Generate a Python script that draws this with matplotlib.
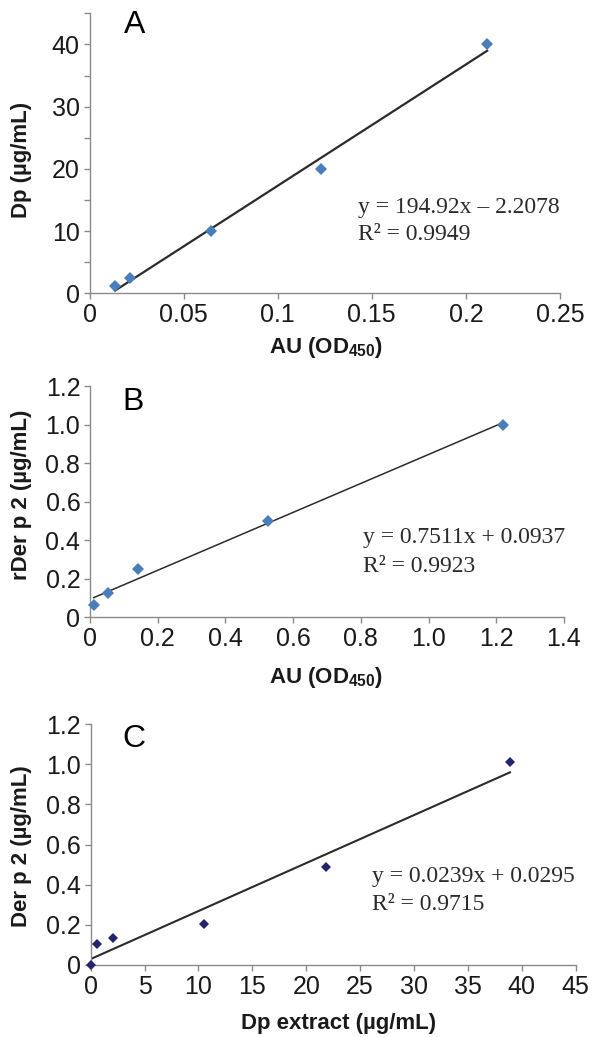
import numpy as np
import matplotlib
matplotlib.use("Agg")
import matplotlib.pyplot as plt
from matplotlib.ticker import FuncFormatter, MultipleLocator

plt.rcParams['font.family'] = ['Liberation Sans', 'DejaVu Sans']
plt.rcParams['mathtext.default'] = 'regular'

# panel A: Dp vs AU
a_x = [0.0136, 0.0215, 0.0648, 0.1232, 0.2113]
a_y = [1.25, 2.5, 10, 20, 40]
a_fit = (194.92, -2.2078)

# panel B: rDer p 2 vs AU
b_x = [0.011, 0.052, 0.142, 0.525, 1.219]
b_y = [0.0625, 0.125, 0.25, 0.5, 1.0]
b_fit = (0.7511, 0.0937)

# panel C: Der p 2 vs Dp extract
c_x = [0.0, 0.56, 2.1, 10.5, 21.8, 38.9]
c_y = [0.0, 0.103, 0.133, 0.203, 0.49, 1.01]
c_fit = (0.0239, 0.0295)

W, H = 592, 1037
fig = plt.figure(figsize=(W / 100, H / 100), dpi=100)


def box(left, right, top, bottom):
    return [left / W, 1 - bottom / H, (right - left) / W, (bottom - top) / H]


def fmt_dec(v, pos):
    return '0' if abs(v) < 1e-9 else '%.1f' % v


def fmt_g(v, pos):
    return '0' if abs(v) < 1e-9 else '%g' % round(v, 4)


def style(ax):
    for s in ['top', 'right']:
        ax.spines[s].set_visible(False)
    for s in ['left', 'bottom']:
        ax.spines[s].set_color('#8a8a8a')
        ax.spines[s].set_linewidth(1.0)
    ax.tick_params(direction='out', length=4, width=1.0, color='#8a8a8a',
                   labelsize=18, labelcolor='#1a1a1a', pad=3)


def panel(ax, x, y, fit, mcolor, ms, lw, letter, lpos, eq, r2, tx, ty1, ty2):
    style(ax)
    ax.plot(x, y, linestyle='none', marker='D', ms=ms, color=mcolor,
            markeredgewidth=0, zorder=3, clip_on=False)
    xf = np.array([min(x), max(x)])
    ax.plot(xf, fit[0] * xf + fit[1], color='#2b2b2b', lw=lw, zorder=2)
    ax.text(lpos[0], lpos[1], letter, transform=ax.transAxes, fontsize=23,
            ha='center', va='center')
    ax.text(tx, ty1, eq, transform=ax.transAxes, fontsize=17,
            family='Liberation Serif', color='#2b2b2b', va='baseline')
    ax.text(tx, ty2, r2, transform=ax.transAxes, fontsize=17,
            family='Liberation Serif', color='#2b2b2b', va='baseline')


# A
axA = fig.add_axes(box(89.5, 560, 13.3, 293.3))
panel(axA, a_x, a_y, a_fit, '#4a7ebb', 6.5, 1.6, 'A', (0.095, 0.958),
      'y = 194.92x \u2013 2.2078', 'R\u00b2 = 0.9949', 0.57, 0.287, 0.19)
axA.set_xlim(0, 0.25)
axA.set_ylim(0, 45)
axA.xaxis.set_major_locator(MultipleLocator(0.05))
axA.yaxis.set_major_locator(MultipleLocator(5))
axA.xaxis.set_major_formatter(FuncFormatter(fmt_g))
axA.yaxis.set_major_formatter(
    FuncFormatter(lambda v, p: '%d' % v if round(v) % 10 == 0 and v < 44 else ''))

# B
axB = fig.add_axes(box(90, 564, 386, 617.3))
panel(axB, b_x, b_y, b_fit, '#4a7ebb', 6.5, 1.1, 'B', (0.09, 0.93),
      'y = 0.7511x + 0.0937', 'R\u00b2 = 0.9923', 0.577, 0.321, 0.196)
axB.set_xlim(0, 1.4)
axB.set_ylim(0, 1.2)
axB.xaxis.set_major_locator(MultipleLocator(0.2))
axB.yaxis.set_major_locator(MultipleLocator(0.2))
axB.xaxis.set_major_formatter(FuncFormatter(fmt_dec))
axB.yaxis.set_major_formatter(FuncFormatter(fmt_dec))

# C
axC = fig.add_axes(box(90.6, 575.7, 724, 965))
panel(axC, c_x, c_y, c_fit, '#24246e', 5, 1.5, 'C', (0.09, 0.938),
      'y = 0.0239x + 0.0295', 'R\u00b2 = 0.9715', 0.58, 0.346, 0.228)
axC.set_xlim(0, 45)
axC.set_ylim(0, 1.2)
axC.xaxis.set_major_locator(MultipleLocator(5))
axC.yaxis.set_major_locator(MultipleLocator(0.2))
axC.xaxis.set_major_formatter(FuncFormatter(lambda v, p: '%d' % v))
axC.yaxis.set_major_formatter(FuncFormatter(fmt_dec))

# axis titles
lab = dict(fontsize=16, fontweight='bold', color='#1a1a1a', ha='center', va='center')
fig.text(22 / W, 1 - 160 / H, 'Dp (\u00b5g/mL)', rotation=90, **lab)
fig.text(326 / W, 1 - 348 / H, 'AU (OD$_{450}$)', **lab)
fig.text(22 / W, 1 - 495 / H, 'rDer p 2 (\u00b5g/mL)', rotation=90, **lab)
fig.text(326 / W, 1 - 677 / H, 'AU (OD$_{450}$)', **lab)
fig.text(22 / W, 1 - 846 / H, 'Der p 2 (\u00b5g/mL)', rotation=90, **lab)
fig.text(339 / W, 1 - 1023 / H, 'Dp extract (\u00b5g/mL)', **lab)

fig.savefig('out.png', dpi=100)
